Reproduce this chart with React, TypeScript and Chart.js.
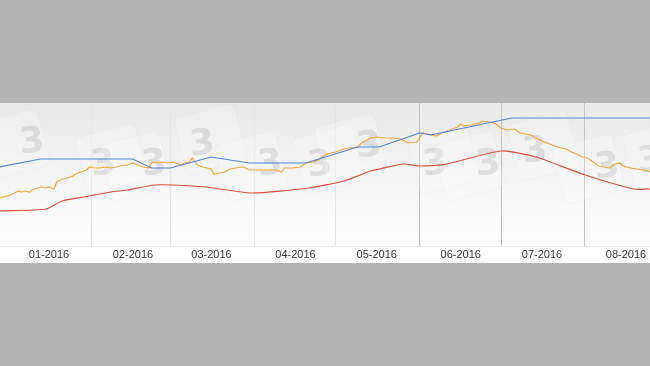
import React, { useEffect, useRef } from "react";
import { Chart, registerables } from "chart.js";

Chart.register(...registerables);

// Day offsets are counted from 1 Jan 2016 (day 0).
const monthStarts = [0, 31, 60, 91, 121, 152, 182, 213];
const monthLabels = ["01-2016", "02-2016", "03-2016", "04-2016", "05-2016", "06-2016", "07-2016", "08-2016"];

const blueDays = [-3, 12, 46, 53, 60, 75, 89, 110, 129, 137, 152, 156, 186, 237];
const blueValues = [79, 87, 87, 78, 78, 89, 83, 83, 99, 99, 113, 111, 128, 128];

const redDays = [-3, 14, 20, 28, 38, 44, 54, 61, 73, 90, 111, 124, 134, 146, 152, 162, 182, 195, 212, 231, 237];
const redValues = [35, 37, 45, 49, 54, 56, 61, 61, 59, 53, 58, 65, 75, 82, 80, 82, 95, 89, 72, 57, 57];

const orangeDays = [
  -3, 1, 3, 4, 5, 6, 8, 9, 11, 12, 14, 15, 17, 18, 20, 22, 24, 25, 27, 29,
  30, 32, 34, 36, 38, 40, 41, 44, 46, 48, 50, 52, 53, 54, 56, 57, 59, 61, 64, 65,
  67, 68, 70, 72, 75, 76, 78, 80, 82, 84, 87, 89, 93, 97, 99, 101, 102, 105, 108, 110,
  113, 115, 117, 119, 121, 124, 126, 129, 131, 134, 136, 139, 142, 145, 147, 148, 151, 153, 155, 158,
  160, 163, 166, 167, 168, 171, 174, 175, 178, 180, 182, 184, 187, 189, 193, 195, 198, 199, 201, 204,
  206, 208, 210, 212, 214, 216, 218, 220, 222, 224, 226, 227, 230, 232, 235, 237,
];
const orangeValues = [
  48, 51, 54, 55, 54, 55, 54, 56, 58, 59, 58, 59, 57, 64, 67, 68, 70, 72, 74, 76,
  79, 78, 78, 79, 78, 79, 80, 81, 83, 81, 79, 78, 83, 84, 83, 84, 83, 84, 81, 83,
  84, 88, 81, 79, 77, 72, 73, 74, 77, 78, 79, 76, 76, 76, 76, 74, 78, 78, 79, 83,
  84, 87, 91, 93, 94, 97, 98, 99, 104, 108, 109, 108, 108, 107, 104, 103, 104, 113, 112, 110,
  113, 116, 119, 122, 120, 121, 123, 125, 124, 122, 118, 116, 117, 113, 111, 108, 104, 103, 101, 98,
  97, 94, 92, 89, 88, 84, 80, 79, 78, 82, 83, 80, 78, 77, 76, 74,
];

const toPoints = (xs: number[], ys: number[]) => xs.map((x, i) => ({ x, y: ys[i] }));

const watermarkPlugin = {
  id: "watermark",
  beforeDatasetsDraw(chart: any) {
    const { ctx, chartArea } = chart;
    const spots = [
      [32, 40], [103, 62], [154, 62], [202, 42], [270, 62], [320, 63],
      [369, 44], [435, 62], [488, 62], [535, 49], [607, 65], [650, 59],
    ];
    ctx.save();
    ctx.beginPath();
    ctx.rect(chartArea.left, chartArea.top, chartArea.right - chartArea.left, chartArea.bottom - chartArea.top);
    ctx.clip();
    spots.forEach(([x, y], i) => {
      ctx.save();
      ctx.translate(x, y);
      ctx.rotate(-0.26);
      const dx = i % 2 === 0 ? -18 : 10;
      ctx.fillStyle = "rgba(255,255,255,0.18)";
      ctx.strokeStyle = "rgba(0,0,0,0.025)";
      ctx.lineWidth = 1;
      ctx.beginPath();
      const w = 62, h = 58, rx = dx - w / 2, ry = -h / 2 - 4, r = 6;
      ctx.moveTo(rx + r, ry);
      ctx.arcTo(rx + w, ry, rx + w, ry + h, r);
      ctx.arcTo(rx + w, ry + h, rx, ry + h, r);
      ctx.arcTo(rx, ry + h, rx, ry, r);
      ctx.arcTo(rx, ry, rx + w, ry, r);
      ctx.closePath();
      ctx.fill();
      ctx.stroke();
      ctx.restore();
      ctx.save();
      ctx.translate(x, y);
      ctx.rotate(-0.1);
      ctx.fillStyle = "rgba(150,150,150,0.24)";
      ctx.font = "bold 36px 'DejaVu Sans'";
      ctx.textAlign = "center";
      ctx.textBaseline = "middle";
      ctx.fillText("3", 0, 0);
      ctx.restore();
    });
    ctx.restore();
  },
};

export default function App() {
  const canvasRef = useRef<HTMLCanvasElement | null>(null);

  useEffect(() => {
    document.body.style.margin = "0";
    const canvas = canvasRef.current;
    if (!canvas) return;
    const chart = new Chart(canvas, {
      type: "line",
      data: {
        datasets: [
          {
            label: "Blue",
            data: toPoints(blueDays, blueValues),
            borderColor: "#5382d6",
            borderWidth: 1.2,
            pointRadius: 0,
            tension: 0,
          },
          {
            label: "Orange",
            data: toPoints(orangeDays, orangeValues),
            borderColor: "#f2a93a",
            borderWidth: 1.2,
            pointRadius: 0,
            tension: 0,
          },
          {
            label: "Red",
            data: toPoints(redDays, redValues),
            borderColor: "#e0503c",
            borderWidth: 1.2,
            pointRadius: 0,
            tension: 0.2,
          },
        ],
      },
      plugins: [watermarkPlugin],
      options: {
        animation: false,
        responsive: false,
        maintainAspectRatio: false,
        layout: { padding: 0 },
        plugins: { legend: { display: false }, tooltip: { enabled: false } },
        scales: {
          x: {
            type: "linear",
            min: -2.95,
            max: 237,
            afterBuildTicks: (scale: any) => {
              scale.ticks = monthStarts.map((v) => ({ value: v }));
            },
            afterFit: (scale: any) => {
              scale.paddingLeft = 0;
              scale.paddingRight = 0;
              scale.height = 17;
            },
            grid: {
              drawTicks: false,
              color: (ctx: any) => {
                const v = ctx.tick ? ctx.tick.value : -1;
                if (v === 0) return "rgba(0,0,0,0)";
                return v >= 152 ? "#c2c2c2" : "#e6e6e6";
              },
              lineWidth: 1,
            },
            border: { color: "#ececec" },
            ticks: {
              autoSkip: false,
              maxRotation: 0,
              labelOffset: 41,
              padding: 2,
              color: "#3a3a3a",
              font: { family: "'Liberation Sans', Arial, sans-serif", size: 11 },
              callback: (_v: any, i: number) => monthLabels[i],
            },
          },
          y: {
            display: false,
            min: 0,
            max: 143,
          },
        },
      },
    });
    return () => chart.destroy();
  }, []);

  return (
    <div style={{ width: 650, height: 366, background: "#b3b3b3", position: "relative", overflow: "hidden" }}>
      <div
        style={{
          position: "absolute",
          left: 0,
          top: 103,
          width: 650,
          height: 160,
          background: "linear-gradient(#e9e9e9 0%, #f4f4f4 45%, #fdfdfd 85%, #ffffff 100%)",
        }}
      >
        <canvas ref={canvasRef} width={650} height={160} style={{ display: "block" }} />
      </div>
    </div>
  );
}
